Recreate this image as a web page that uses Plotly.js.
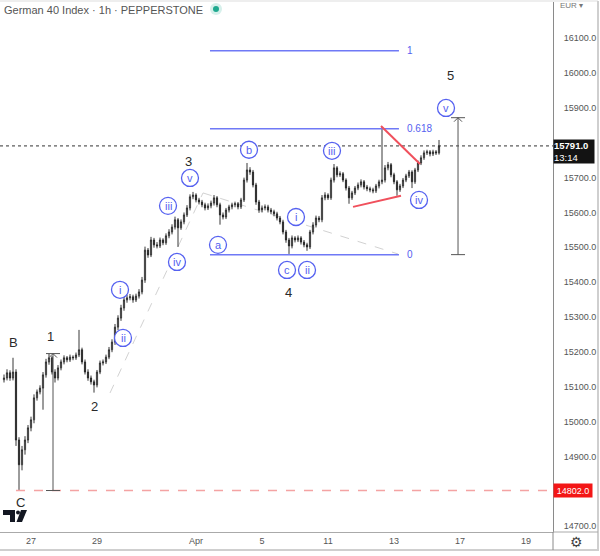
<!DOCTYPE html>
<html><head><meta charset="utf-8">
<script src="https://cdn.plot.ly/plotly-3.0.1.min.js"></script>
<style>html,body{margin:0;padding:0;background:#fff;}#chart{width:600px;height:556px;}</style>
</head><body><div id="chart"></div>
<script>
// ---------- DATA (GER40 CFD, bars) ----------
const opens = [
15120,15125,15140,15125,15142,14947,14876,14919,14947,14982,
15005,15068,15085,15096,15134,15171,15183,15142,15125,15154,
15171,15183,15177,15185,15183,15191,15206,15171,15142,15125,
15114,15105,15142,15168,15171,15185,15206,15228,15271,15297,
15326,15349,15355,15358,15349,15360,15372,15406,15492,15478,
15521,15507,15504,15521,15513,15533,15544,15558,15579,15556,
15573,15593,15613,15645,15650,15636,15630,15622,15613,15619,
15627,15642,15622,15593,15587,15607,15616,15622,15625,15616,
15636,15693,15722,15716,15679,15630,15607,15613,15616,15607,
15602,15596,15584,15573,15544,15521,15504,15527,15521,15527,
15515,15507,15501,15544,15564,15584,15579,15642,15650,15642,
15693,15728,15708,15711,15693,15670,15642,15656,15670,15679,
15688,15673,15668,15665,15662,15676,15688,15693,15728,15737,
15708,15688,15665,15676,15693,15705,15716,15688,15722,15742,
15757,15771,15774,15768,15774,15771];
const highs = [
15135,15150,15147,15183,15150,14955,14930,14958,14990,15014,
15078,15092,15104,15142,15180,15194,15188,15150,15162,15178,
15190,15188,15192,15190,15198,15263,15212,15178,15150,15132,
15120,15148,15175,15178,15192,15214,15236,15280,15305,15335,
15358,15364,15366,15364,15367,15380,15415,15502,15498,15530,
15527,15515,15528,15526,15540,15552,15566,15588,15584,15580,
15600,15621,15652,15659,15655,15642,15636,15628,15626,15634,
15650,15647,15628,15600,15613,15622,15628,15631,15630,15642,
15700,15742,15730,15722,15685,15636,15620,15623,15622,15613,
15608,15602,15590,15579,15550,15527,15534,15532,15534,15532,
15521,15513,15550,15572,15591,15590,15650,15658,15655,15700,
15739,15733,15718,15716,15698,15676,15662,15676,15686,15695,
15693,15679,15674,15671,15682,15694,15846,15736,15745,15742,
15714,15693,15682,15699,15711,15722,15721,15728,15749,15764,
15778,15780,15779,15780,15779,15808];
const lows = [
15112,15118,15117,15118,14930,14802,14860,14905,14938,14972,
14995,15060,15078,15034,15126,15163,15135,15112,15118,15147,
15164,15170,15171,15176,15177,15185,15164,15135,15117,15106,
15083,15098,15136,15161,15165,15179,15199,15220,15262,15289,
15318,15341,15348,15341,15343,15353,15365,15398,15470,15472,
15499,15497,15498,15506,15507,15526,15537,15551,15501,15550,
15566,15587,15606,15638,15629,15623,15615,15606,15607,15612,
15620,15615,15565,15580,15581,15600,15609,15615,15609,15610,
15630,15686,15708,15672,15622,15599,15600,15606,15600,15595,
15589,15577,15566,15537,15513,15481,15497,15514,15515,15508,
15500,15490,15495,15537,15557,15572,15572,15635,15636,15636,
15686,15701,15702,15687,15663,15625,15636,15650,15664,15672,
15666,15661,15658,15655,15656,15669,15681,15686,15721,15701,
15681,15648,15659,15670,15687,15699,15670,15682,15716,15736,
15751,15765,15761,15762,15765,15766];
const closes = [
15125,15140,15125,15142,14947,14876,14919,14947,14982,15005,
15068,15085,15096,15134,15171,15183,15142,15125,15154,15171,
15183,15177,15185,15183,15191,15206,15171,15142,15125,15114,
15105,15142,15168,15171,15185,15206,15228,15271,15297,15326,
15349,15355,15358,15349,15360,15372,15406,15492,15478,15521,
15507,15504,15521,15513,15533,15544,15558,15579,15556,15573,
15593,15613,15645,15650,15636,15630,15622,15613,15619,15627,
15642,15622,15593,15587,15607,15616,15622,15625,15616,15636,
15693,15722,15716,15679,15630,15607,15613,15616,15607,15602,
15596,15584,15573,15544,15521,15504,15527,15521,15527,15515,
15507,15501,15544,15564,15584,15579,15642,15650,15642,15693,
15728,15708,15711,15693,15670,15642,15656,15670,15679,15688,
15673,15668,15665,15662,15676,15688,15693,15728,15737,15708,
15688,15665,15676,15693,15705,15716,15688,15722,15742,15757,
15771,15774,15768,15774,15771,15791];

// time axis in trading days counted from Mar 27 (weekends/holidays removed)
const firstBarDay = -9 / 11;
const barsPerDay = 11;
const tickDays   = [0, 2, 5, 7, 9, 11, 13, 15];
const tickLabels = ['27', '29', 'Apr', '5', '11', '13', '17', '19'];

// price scale labels (15800 and 14800 sit under the price boxes)
const priceTicks = [14700, 14900, 15000, 15100, 15200, 15300, 15400, 15500, 15600, 15700, 15900, 16000, 16100];

const lastPrice = 15791.0;
const lastCountdown = '13:14';
const swingLow = 14802.0;

// Fibonacci tool
const fibLevels = ['0', '0.618', '1'];
const fibPrices = [15479, 15840, 16064];
const fibStartDay = 5.424, fibEndDay = 11.15, fibLabelDay = 11.33;

// Elliott wave labels
const waveLabels = ['B', '1', '2', 'C', '3', '4', '5'];
const waveDays   = [-0.545, 0.576, 1.909, -0.333, 4.758, 7.818, 12.697];
const wavePrices = [15226, 15243, 15042, 14768, 15745, 15369, 15992];

const circLabels = ['i', 'ii', 'iii', 'iv', 'v', 'a', 'b', 'c', 'i', 'ii', 'iii', 'iv', 'v'];
const circDays   = [2.697, 2.788, 4.152, 4.424, 4.818, 5.667, 6.606, 7.758, 8.03, 8.364, 9.121, 11.758, 12.576];
const circPrices = [15378, 15240, 15619, 15458, 15699, 15507, 15780, 15435, 15587, 15435, 15777, 15636, 15900];

// measuring tools (equal legs)
const measureDays = [0.667, 12.94];
const measureFrom = [14802, 15479];
const measureTo   = [15195, 15872];

// trend lines
const redUpper = {d: [10.606, 11.788], p: [15848, 15739]};
const redLower = {d: [9.758, 11.212], p: [15616, 15648]};
const grayChannel = {d: [2.394, 5.212, 11.12], p: [15082, 15656, 15481]};

// ---------- LAYOUT ----------
const W = 600, H = 556;
const ML = 0, MR = 47, MT = 2, MB = 24;
const PW = W - ML - MR, PH = H - MT - MB;
const xRange = [-(31) / 33, (PW - 31) / 33];
const yRange = [14683, 16204];
const px = p => (p - ML) / PW;
const py = p => (MT + PH - p) / PH;

const BLUE = '#5561f0', FIBBLUE = '#6f79f6', RED = '#f0505c';
const FONT = 'Liberation Sans, Arial, sans-serif';

const xs = closes.map((_, i) => firstBarDay + i / barsPerDay);

const trace = {
  type: 'candlestick', x: xs, open: opens, high: highs, low: lows, close: closes,
  increasing: {line: {color: '#222222', width: 0.9}, fillcolor: '#ffffff'},
  decreasing: {line: {color: '#222222', width: 0.9}, fillcolor: '#222222'},
  whiskerwidth: 0, hoverinfo: 'skip', showlegend: false
};

const shapes = [];
const annotations = [];

// frame
shapes.push({type: 'line', xref: 'paper', yref: 'paper', x0: px(0), x1: px(598), y0: py(1), y1: py(1), line: {color: '#dddddd', width: 1}});
shapes.push({type: 'line', xref: 'paper', yref: 'paper', x0: px(598), x1: px(598), y0: py(1), y1: py(550), line: {color: '#cfcfcf', width: 2}});
shapes.push({type: 'line', xref: 'paper', yref: 'paper', x0: px(0), x1: px(599), y0: py(550), y1: py(550), line: {color: '#cfcfcf', width: 2}});
shapes.push({type: 'line', xref: 'paper', yref: 'paper', x0: px(553), x1: px(553), y0: py(532), y1: py(550), line: {color: '#8a8a8a', width: 1}});
shapes.push({type: 'line', xref: 'paper', yref: 'paper', x0: px(553), x1: px(598), y0: py(532), y1: py(532), line: {color: '#aaaaaa', width: 1}});

// last price dotted line and swing-low dashed line
shapes.push({type: 'line', xref: 'paper', yref: 'y', x0: 0, x1: 1, y0: lastPrice, y1: lastPrice, line: {color: '#333', width: 1, dash: 'dot'}});
shapes.push({type: 'line', xref: 'x', yref: 'y', x0: -0.455, x1: xRange[1], y0: swingLow, y1: swingLow, line: {color: '#f4a3a3', width: 1.5, dash: 'dash'}});

// gray dashed channel
for (let k = 0; k < grayChannel.d.length - 1; k++) {
  shapes.push({type: 'line', xref: 'x', yref: 'y', x0: grayChannel.d[k], x1: grayChannel.d[k + 1], y0: grayChannel.p[k], y1: grayChannel.p[k + 1], line: {color: '#d2d2d2', width: 1, dash: 'dash'}, layer: 'below'});
}

// fib lines
fibPrices.forEach((p, k) => {
  shapes.push({type: 'line', xref: 'x', yref: 'y', x0: fibStartDay, x1: fibEndDay, y0: p, y1: p, line: {color: FIBBLUE, width: 1.5}});
  annotations.push({xref: 'x', yref: 'y', x: fibLabelDay, y: p, xanchor: 'left', yanchor: 'middle', text: fibLevels[k], showarrow: false, font: {family: FONT, size: 10, color: BLUE}});
});

// red trend lines
[redUpper, redLower].forEach(l => shapes.push({type: 'line', xref: 'x', yref: 'y', x0: l.d[0], x1: l.d[1], y0: l.p[0], y1: l.p[1], line: {color: RED, width: 2}}));

// measuring tools
measureDays.forEach((d, k) => {
  const c = '#555';
  shapes.push({type: 'line', xref: 'x', yref: 'y', x0: d, x1: d, y0: measureFrom[k], y1: measureTo[k], line: {color: c, width: 1}});
  [measureFrom[k], measureTo[k]].forEach(p => shapes.push({type: 'line', xref: 'x', yref: 'y', xsizemode: 'pixel', xanchor: d, x0: -7, x1: 7, y0: p, y1: p, line: {color: c, width: 1}}));
  shapes.push({type: 'path', xref: 'x', yref: 'y', xsizemode: 'pixel', ysizemode: 'pixel', xanchor: d, yanchor: measureTo[k], path: 'M-4,-4 L0,0 L4,-4', line: {color: c, width: 1}});
});

// circled sub-wave labels
circLabels.forEach((t, k) => {
  shapes.push({type: 'circle', xref: 'x', yref: 'y', xsizemode: 'pixel', ysizemode: 'pixel', xanchor: circDays[k], yanchor: circPrices[k], x0: -8.5, x1: 8.5, y0: -8.5, y1: 8.5, line: {color: BLUE, width: 1.3}, fillcolor: '#ffffff'});
  annotations.push({xref: 'x', yref: 'y', x: circDays[k], y: circPrices[k], text: t, showarrow: false, xanchor: 'center', yanchor: 'middle', font: {family: FONT, size: 11, color: BLUE}});
});

// main wave labels
waveLabels.forEach((t, k) => annotations.push({xref: 'x', yref: 'y', x: waveDays[k], y: wavePrices[k], text: t, showarrow: false, xanchor: 'center', yanchor: 'middle', font: {family: FONT, size: 13, color: '#2a2a2a'}}));

// header
annotations.push({xref: 'paper', yref: 'paper', x: px(2), y: py(10), xanchor: 'left', yanchor: 'middle', text: 'German 40 Index · 1h · PEPPERSTONE', showarrow: false, font: {family: FONT, size: 11, color: '#555'}});
shapes.push({type: 'circle', xref: 'paper', yref: 'paper', x0: px(210), x1: px(222), y0: py(15), y1: py(3), fillcolor: '#d6f0eb', line: {width: 0}});
shapes.push({type: 'circle', xref: 'paper', yref: 'paper', x0: px(213), x1: px(219), y0: py(12), y1: py(6), fillcolor: '#1fa98f', line: {width: 0}});
annotations.push({xref: 'paper', yref: 'paper', x: px(558), y: py(6), xanchor: 'left', yanchor: 'middle', text: 'EUR ▾', showarrow: false, font: {family: FONT, size: 8, color: '#777'}});

// price boxes on axis
annotations.push({xref: 'paper', yref: 'y', x: 1, y: lastPrice, xanchor: 'left', yanchor: 'top', yshift: 7, text: '<b>' + lastPrice.toFixed(1) + '</b><br>' + lastCountdown, showarrow: false, align: 'left', width: 40, height: 23, borderpad: 0, bgcolor: '#131313', font: {family: FONT, size: 9.5, color: '#ffffff'}});
annotations.push({xref: 'paper', yref: 'y', x: 1, y: swingLow, xanchor: 'left', yanchor: 'middle', text: swingLow.toFixed(1), showarrow: false, width: 38, height: 13, borderpad: 0, bgcolor: '#f31616', font: {family: FONT, size: 9, color: '#ffffff'}});

// gear icon
annotations.push({xref: 'paper', yref: 'paper', x: px(576), y: py(542), xanchor: 'center', yanchor: 'middle', text: '⚙', showarrow: false, font: {family: 'DejaVu Sans', size: 14, color: '#444'}});

// TradingView logo
const P = (a, b) => px(a) + ',' + py(b);
shapes.push({type: 'path', xref: 'paper', yref: 'paper', path: 'M' + P(3, 510) + ' L' + P(15, 510) + ' L' + P(15, 522) + ' L' + P(10, 522) + ' L' + P(10, 515) + ' L' + P(3, 515) + ' Z', fillcolor: '#131722', line: {width: 0}});
shapes.push({type: 'path', xref: 'paper', yref: 'paper', path: 'M' + P(21, 510) + ' L' + P(27, 510) + ' L' + P(22, 522) + ' L' + P(16.5, 522) + ' Z', fillcolor: '#131722', line: {width: 0}});
shapes.push({type: 'circle', xref: 'paper', yref: 'paper', x0: px(16), x1: px(20), y0: py(514.5), y1: py(510.5), fillcolor: '#131722', line: {width: 0}});

const layout = {
  width: W, height: H,
  margin: {l: ML, r: MR, t: MT, b: MB, pad: 0},
  paper_bgcolor: '#ffffff', plot_bgcolor: '#ffffff',
  showlegend: false, hovermode: false, dragmode: false,
  boxgap: 0.45,
  font: {family: FONT},
  xaxis: {range: xRange, tickmode: 'array', tickvals: tickDays, ticktext: tickLabels, showgrid: false, zeroline: false,
          showline: true, linecolor: '#aaaaaa', linewidth: 1, ticks: '', tickfont: {family: FONT, size: 9, color: '#555'},
          rangeslider: {visible: false}, fixedrange: true},
  yaxis: {range: yRange, side: 'right', tickmode: 'array', tickvals: priceTicks, tickformat: '.1f', showgrid: false, zeroline: false,
          showline: true, linecolor: '#8a8a8a', linewidth: 1, ticks: '', ticklabelstandoff: 8,
          tickfont: {family: FONT, size: 9, color: '#555'}, fixedrange: true},
  shapes: shapes, annotations: annotations
};

Plotly.newPlot('chart', [trace], layout, {staticPlot: true, displayModeBar: false});
</script>
</body></html>
